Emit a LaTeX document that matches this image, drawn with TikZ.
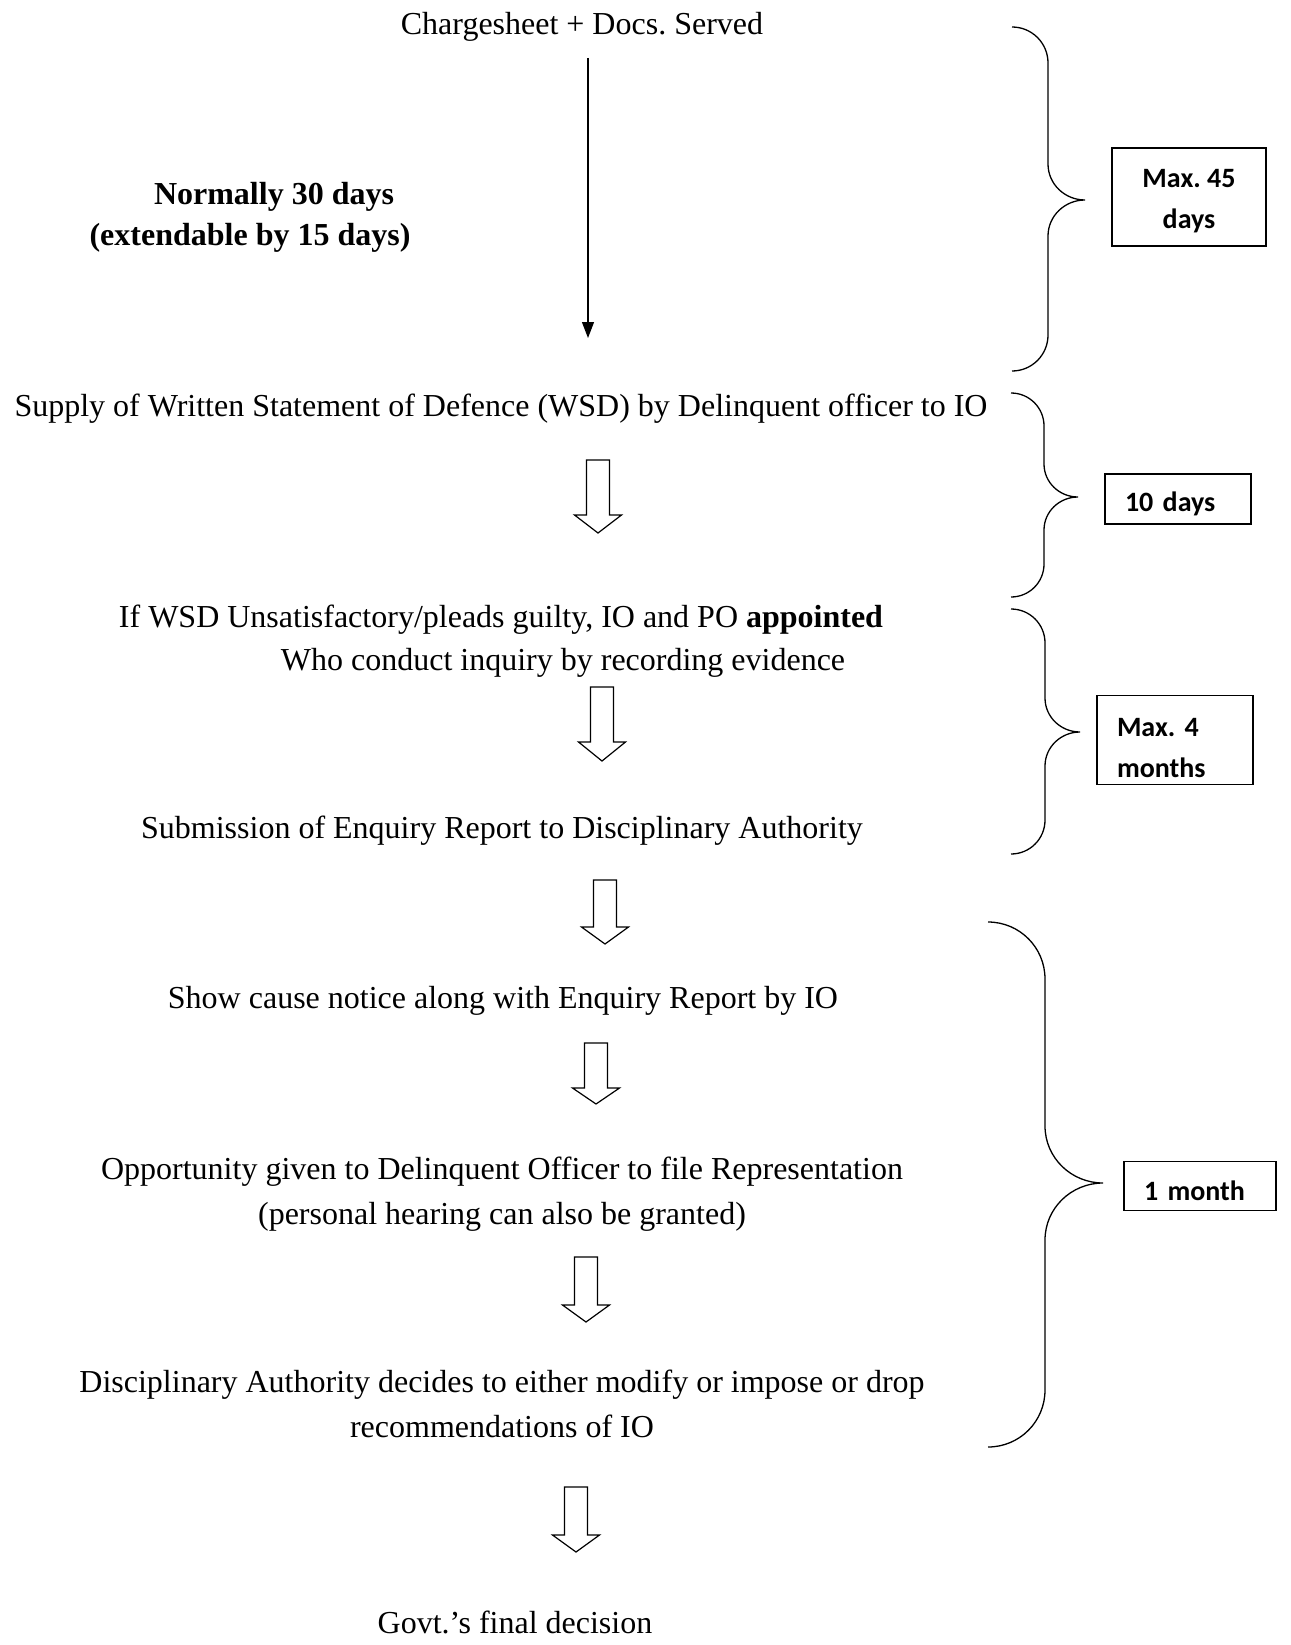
\documentclass[tikz,border=0pt]{standalone}
\usepackage{fontspec}
\setmainfont{Liberation Serif}
\newfontfamily\boxfont{Carlito}
\usetikzlibrary{arrows.meta}
\frenchspacing

% hollow down arrow: x, top, start of head, tip
\newcommand{\hollowarrow}[4]{%
  \draw[line width=1.2pt] (#1-11.5,#2) -- (#1+11.5,#2) -- (#1+11.5,#3) -- (#1+23.5,#3)
    -- (#1,#4) -- (#1-23.5,#3) -- (#1-11.5,#3) -- cycle;}

% right curly brace: x of ends, top, bottom, x of spine, x of tip, y of tip
\newcommand{\timebrace}[6]{%
  \draw[line width=1.3pt] (#1,#2) to[out=0,in=90] (#4,#2+#4-#1) -- (#4,#6-#4+#1)
    to[out=-90,in=180] (#5,#6) to[out=180,in=90] (#4,#6+#4-#1)
    -- (#4,#3-#4+#1) to[out=-90,in=0] (#1,#3);}

\begin{document}
\begin{tikzpicture}[x=1pt,y=-1pt,
    txt/.style={inner sep=0pt, font=\fontsize{32}{45}\selectfont, align=center},
    boldtxt/.style={txt, font=\fontsize{32}{45}\selectfont\bfseries},
    daybox/.style={draw, line width=1.5pt, inner xsep=20pt, inner ysep=0pt,
      font=\boxfont\bfseries\fontsize{28}{41}\selectfont}]
  \useasboundingbox (0,0) rectangle (1290,1645);

  % Steps of the enquiry
  \node[txt] (cs) at (582,27) {Chargesheet + Docs. Served};
  \node[boldtxt] (norma) at (274,197) {Normally 30 days};
  \node[boldtxt] (normb) at (250,238) {(extendable by 15 days)};
  \node[txt] (wsd) at (501,409) {Supply of Written Statement of Defence (WSD) by Delinquent officer to IO};
  \node[txt] (appt) at (501,620) {If WSD Unsatisfactory/pleads guilty, IO and PO \textbf{appointed}};
  \node[txt] (who) at (563,663) {Who conduct inquiry by recording evidence};
  \node[txt] (sub) at (502,831) {Submission of Enquiry Report to Disciplinary Authority};
  \node[txt] (show) at (503,1001) {Show cause notice along with Enquiry Report by IO};
  \node[txt] (opp) at (502,1194) {Opportunity given to Delinquent Officer to file Representation\\(personal hearing can also be granted)};
  \node[txt] (dec) at (502,1404) {Disciplinary Authority decides to either modify or impose or drop\\recommendations of IO};
  \node[txt] (govt) at (515,1622) {Govt.’s final decision};

  % Arrows between the steps
  \coordinate (csend) at (588,58);
  \coordinate (wsdtop) at (588,338);
  \draw[line width=1.2pt, -{Triangle[length=16pt,width=12pt]}] (csend) -- (wsdtop);
  \hollowarrow{598}{460}{515}{533}
  \hollowarrow{602}{687}{742}{761}
  \hollowarrow{605}{880}{927}{944}
  \hollowarrow{596}{1043}{1088}{1104}
  \hollowarrow{586}{1257}{1305}{1322}
  \hollowarrow{576}{1487}{1535}{1552}

  % Braces and time limits
  \timebrace{1012}{27}{371}{1048}{1085}{200}
  \timebrace{1011}{393}{597}{1044}{1078}{497}
  \timebrace{1011}{609}{854}{1045}{1080}{732}
  \timebrace{988}{922}{1447}{1045}{1103}{1183}

  \node[daybox, minimum width=154pt, minimum height=98pt, align=center] (d45) at (1189,197) {\rule{0pt}{27pt}Max. 45\\days};
  \node[daybox, text width=106pt, minimum height=50pt, align=left] (d10) at (1178,499) {\rule{0pt}{30pt}10 days};
  \node[daybox, text width=116pt, minimum height=89pt, align=left] (m4) at (1175,740) {\rule{0pt}{34pt}Max. 4\\months};
  \node[daybox, text width=112pt, minimum height=49pt, align=left] (m1) at (1200,1186) {\rule{0pt}{30pt}1 month};
\end{tikzpicture}
\end{document}
